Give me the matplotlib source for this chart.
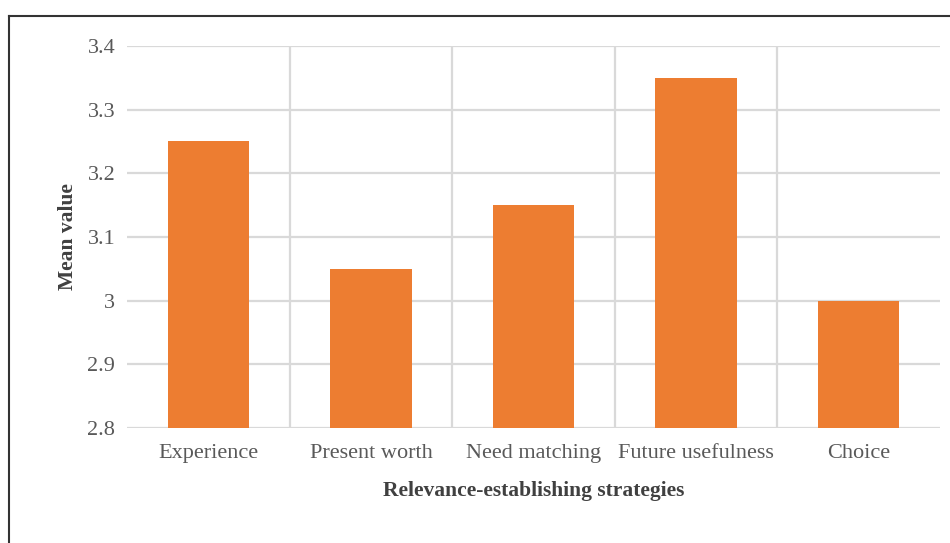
import matplotlib
matplotlib.use("Agg")
import matplotlib.pyplot as plt
from matplotlib.lines import Line2D
from matplotlib.ticker import FuncFormatter

categories = ["Experience", "Present worth", "Need matching", "Future usefulness", "Choice"]
mean_values = [3.25, 3.05, 3.15, 3.35, 3.0]
y_ticks = [2.8, 2.9, 3.0, 3.1, 3.2, 3.3, 3.4]

plt.rcParams["font.family"] = ["Liberation Serif", "DejaVu Serif"]

W, H = 950, 543
fig = plt.figure(figsize=(W / 100, H / 100), dpi=100)
ax = fig.add_axes([127 / W, 1 - 428 / H, (940 - 127) / W, (428 - 46) / H])

x = list(range(len(categories)))
ax.bar(x, [v - 2.8 for v in mean_values], bottom=2.8, width=0.5,
       color="#ED7D31", zorder=3)

ax.set_xlim(-0.5, len(categories) - 0.5)
ax.set_ylim(2.8, 3.4)
ax.set_yticks(y_ticks)
ax.yaxis.set_major_formatter(FuncFormatter(lambda v, p: f"{v:g}"))
ax.set_xticks(x)
ax.set_xticklabels(categories)

grid_color = "#d9d9d9"
for yt in y_ticks:
    ax.axhline(yt, color=grid_color, lw=1.6, zorder=1)
for b in [i + 0.5 for i in x[:-1]]:
    ax.axvline(b, color=grid_color, lw=1.6, zorder=1)

for s in ax.spines.values():
    s.set_visible(False)
ax.tick_params(axis="both", length=0, labelsize=16, labelcolor="#595959")
ax.tick_params(axis="y", pad=8.5)
ax.tick_params(axis="x", pad=11.5)

ax.set_xlabel("Relevance-establishing strategies", fontsize=15.5,
              fontweight="bold", color="#404040", labelpad=13)
ax.set_ylabel("Mean value", fontsize=15.5, fontweight="bold",
              color="#404040", labelpad=6.5)

# frame lines along the top and left of the figure
fig.add_artist(Line2D([9 / W, 9 / W], [0, 1 - 16 / H], transform=fig.transFigure,
                      color="#333333", lw=1.5))
fig.add_artist(Line2D([9 / W, 1], [1 - 16 / H, 1 - 16 / H], transform=fig.transFigure,
                      color="#333333", lw=1.5))

fig.savefig("out.png", dpi=100)
